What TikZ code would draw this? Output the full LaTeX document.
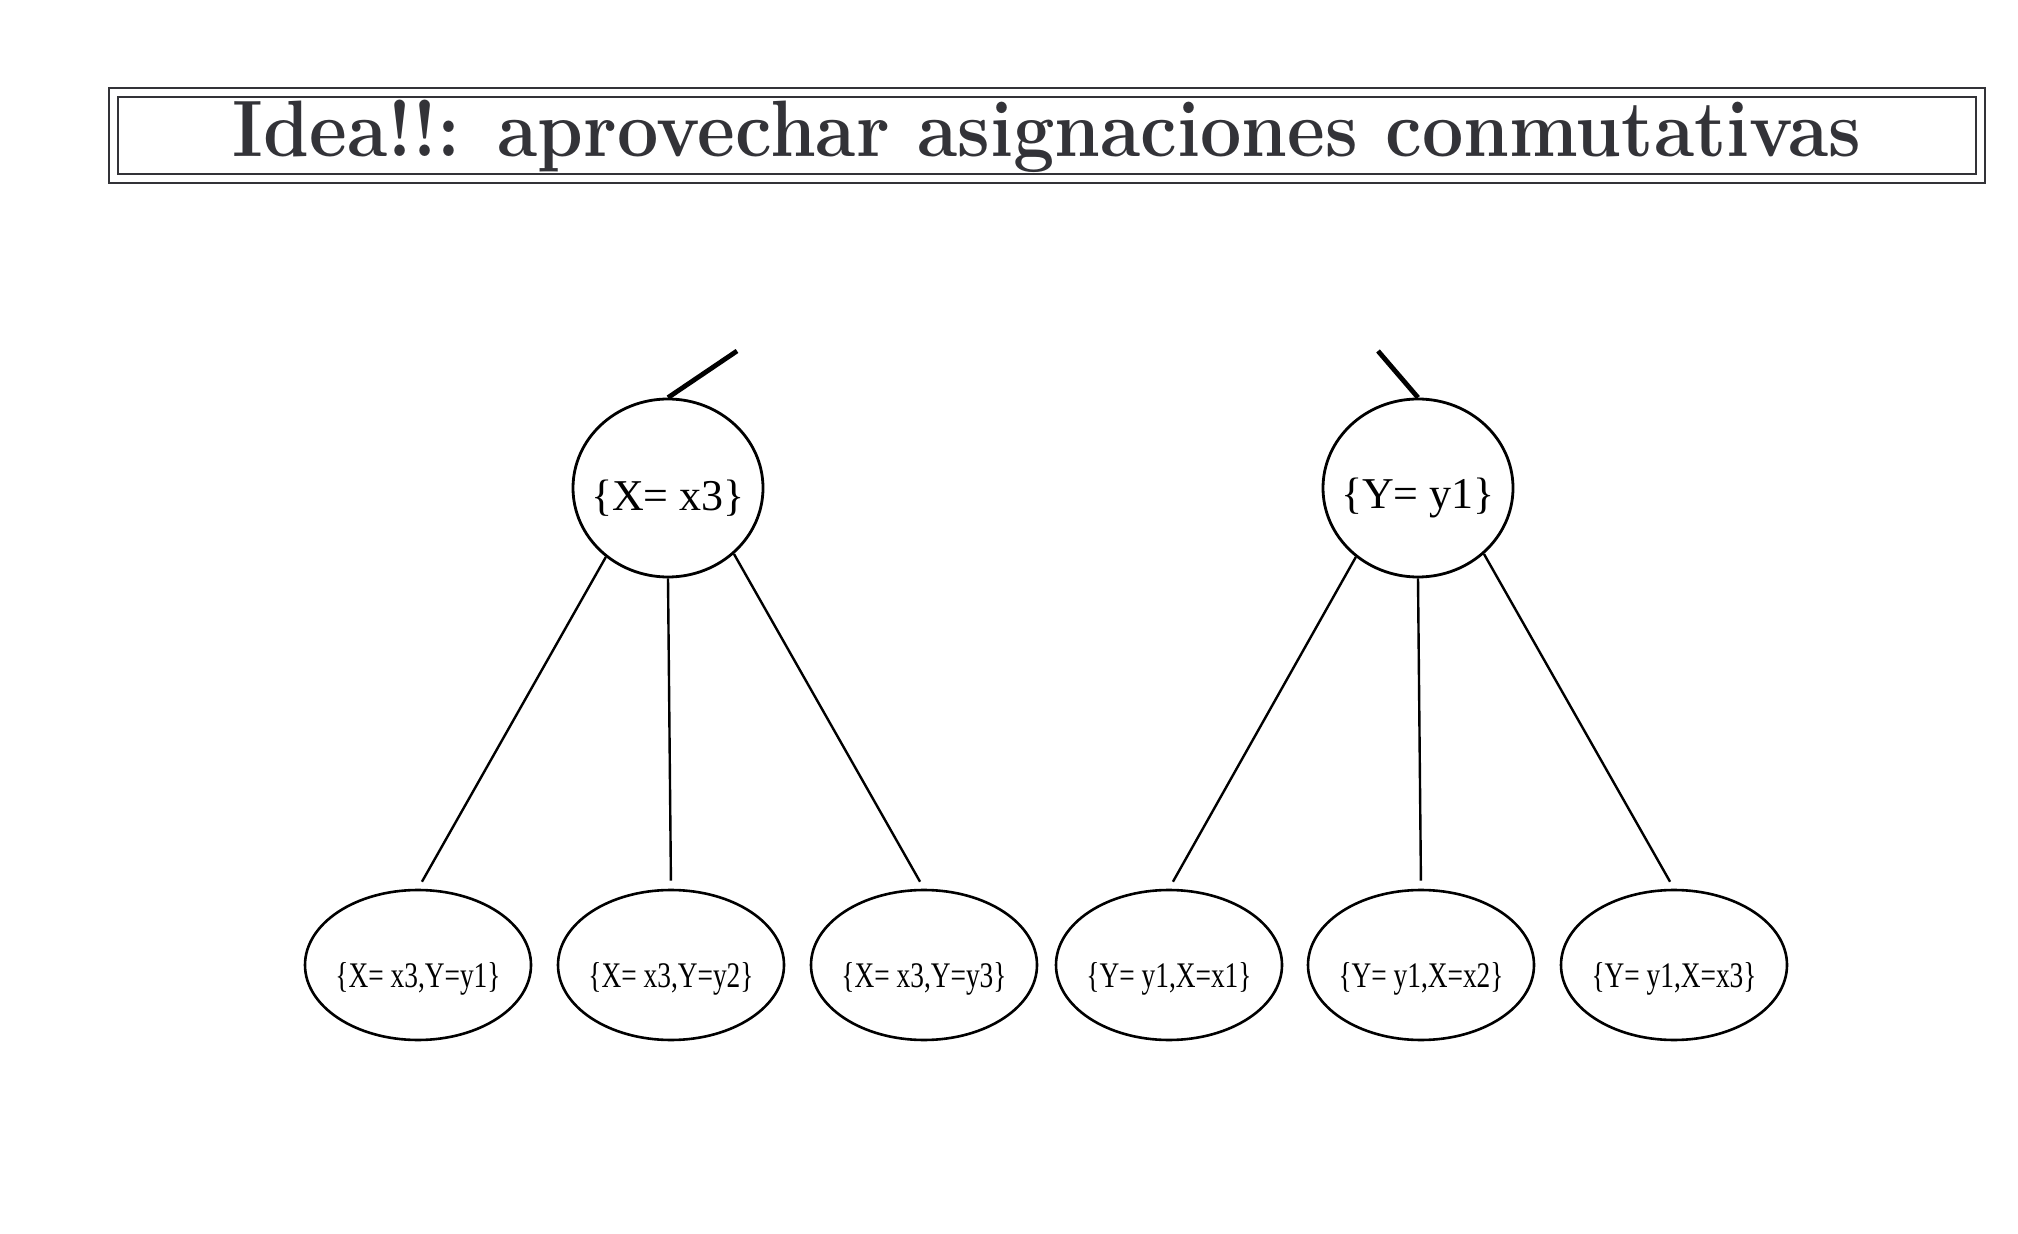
\documentclass[tikz,border=0pt]{standalone}
\usepackage{fontspec}
\setmainfont{Latin Modern Roman}
\newfontfamily\timesfont{Liberation Serif}
\usetikzlibrary{shapes.geometric}
\definecolor{titlegray}{HTML}{333338}
\newcommand{\toptext}[1]{\makebox[0pt]{\raisebox{-5pt}[\height][\depth]{#1}}}
\newcommand{\leaftext}[1]{\makebox[0pt]{\raisebox{-7pt}[\height][\depth]{\scalebox{0.76}[1]{#1}}}}
\tikzset{
  framebox/.style={draw=titlegray, line width=1.4pt},
  topnode/.style={ellipse, draw, line width=1.4pt, inner sep=0pt,
    minimum width=95pt, minimum height=89pt,
    font=\timesfont\fontsize{22}{26}\selectfont},
  leafnode/.style={ellipse, draw, line width=1.3pt, inner sep=0pt,
    minimum width=113pt, minimum height=75pt,
    font=\timesfont\fontsize{18}{22}\selectfont},
  edge/.style={line width=1.2pt, shorten >=4pt},
  thickedge/.style={line width=2.4pt}
}
\begin{document}
\begin{tikzpicture}[x=0.5pt, y=-0.5pt]
\useasboundingbox (0,0) rectangle (2018,1234);
% title frame
\draw[framebox] (109,88) rectangle (1985,183);
\draw[framebox] (118,97) rectangle (1976,174);
\node[text=titlegray, inner sep=0pt, anchor=base] (title) at (1047,157)
  {\scalebox{0.918}[1]{\fontsize{40}{48}\selectfont\bfseries Idea!!: aprovechar asignaciones conmutativas}};
% top nodes
\node[topnode] (c1) at (668,488) {\toptext{\{X= x3\}}};
\node[topnode] (c2) at (1418,488) {\toptext{\{Y= y1\}}};
% leaves
\node[leafnode] (l1) at (418,965) {\leaftext{\{X= x3,Y=y1\}}};
\node[leafnode] (l2) at (671,965) {\leaftext{\{X= x3,Y=y2\}}};
\node[leafnode] (l3) at (924,965) {\leaftext{\{X= x3,Y=y3\}}};
\node[leafnode] (l4) at (1169,965) {\leaftext{\{Y= y1,X=x1\}}};
\node[leafnode] (l5) at (1421,965) {\leaftext{\{Y= y1,X=x2\}}};
\node[leafnode] (l6) at (1674,965) {\leaftext{\{Y= y1,X=x3\}}};
% top free ends
\coordinate (t1) at (737,351);
\coordinate (t2) at (1378,351);
\draw[thickedge] (c1.north) -- (t1);
\draw[thickedge] (c2.north) -- (t2);
% edges
\draw[edge] (c1.228) -- (l1.north);
\draw[edge] (c1.south) -- (l2.north);
\draw[edge] (c1.315) -- (l3.north);
\draw[edge] (c2.228) -- (l4.north);
\draw[edge] (c2.south) -- (l5.north);
\draw[edge] (c2.315) -- (l6.north);
\end{tikzpicture}
\end{document}
